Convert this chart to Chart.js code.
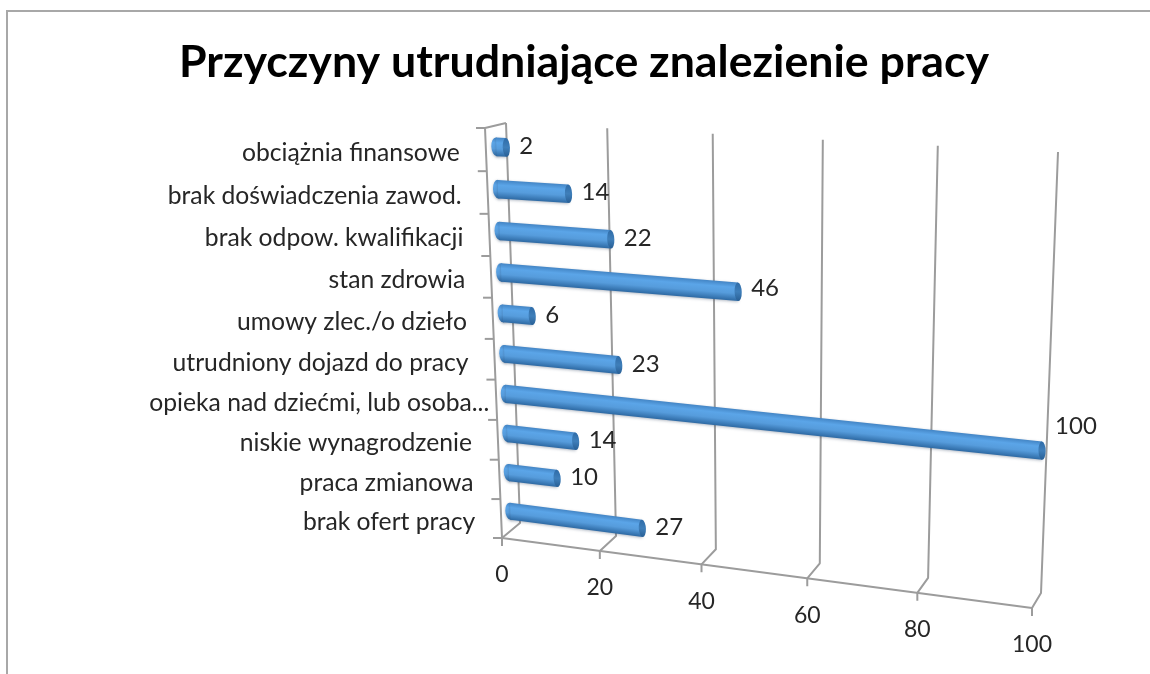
<!DOCTYPE html>
<html lang="pl">
<head>
<meta charset="utf-8">
<title>Przyczyny utrudniające znalezienie pracy</title>
<style>html,body{margin:0;padding:0;background:#fff}canvas{display:block}</style>
<script src="https://cdn.jsdelivr.net/npm/chart.js@4"></script>
</head>
<body>
<canvas id="c" width="1150" height="674"></canvas>
<script>
const titleText = 'Przyczyny utrudniające znalezienie pracy';
const categories = [
  'obciążnia finansowe',
  'brak doświadczenia zawod.',
  'brak odpow. kwalifikacji',
  'stan zdrowia',
  'umowy zlec./o dzieło',
  'utrudniony dojazd do pracy',
  'opieka nad dziećmi, lub osoba...',
  'niskie wynagrodzenie',
  'praca zmianowa',
  'brak ofert pracy'
];
const values = [2, 14, 22, 46, 6, 23, 100, 14, 10, 27];
const xTicks = [0, 20, 40, 60, 80, 100];

// Projection quads: top-left, top-right, bottom-right, bottom-left
const backQuad  = [[506,123],[1058,152],[1041,593],[520,523]];
const frontQuad = [[485,128],[1048,157],[1032,608],[502,538]];
const midQuad   = [[495.5,125.5],[1053,154.5],[1036.5,600.5],[511,530.5]];
const FONT = 'Lato';
const LINE = '#9c9c9c';

function makeH(q){
  const [[x0,y0],[x1,y1],[x2,y2],[x3,y3]] = q;
  const dx1=x1-x2,dx2=x3-x2,sx=x0-x1+x2-x3,dy1=y1-y2,dy2=y3-y2,sy=y0-y1+y2-y3;
  const den=dx1*dy2-dx2*dy1;
  const g=(sx*dy2-dx2*sy)/den,h=(dx1*sy-sx*dy1)/den;
  const a=x1-x0+g*x1,b=x3-x0+h*x3,c=x0,d=y1-y0+g*y1,e=y3-y0+h*y3,f=y0;
  return (u,v)=>{const w=g*u+h*v+1;return [(a*u+b*v+c)/w,(d*u+e*v+f)/w];};
}
const Hback=makeH(backQuad),Hfront=makeH(frontQuad),Hmid=makeH(midQuad);
let area=null;
const U=px=>(px-area.left)/(area.right-area.left);
const V=py=>(py-area.top)/(area.bottom-area.top);

// Bars are still drawn by Chart.js; the element is given a local perspective frame.
const baseDraw = Chart.BarElement.prototype.draw;
Chart.BarElement.prototype.draw = function(ctx){
  const {x,y,base,height}=this.getProps(['x','y','base','height'],true);
  const p0=Hmid(U(base),V(y)),p1=Hmid(U(x),V(y));
  const len=Math.max(x-base,1e-6);
  const q0=Hmid(U((base+x)/2),V(y-0.5)),q1=Hmid(U((base+x)/2),V(y+0.5));
  const ax=(p1[0]-p0[0])/len,ay=(p1[1]-p0[1])/len,bx=q1[0]-q0[0],by=q1[1]-q0[1];
  ctx.save();
  ctx.transform(ax,ay,bx,by,p0[0]-ax*base-bx*y,p0[1]-ay*base-by*y);
  const t=y-height/2;
  const grad=ctx.createLinearGradient(0,t,0,t+height);
  grad.addColorStop(0,'#4385c5');grad.addColorStop(0.28,'#5ba5e8');
  grad.addColorStop(0.6,'#569cdc');grad.addColorStop(1,'#2d69a3');
  ctx.shadowColor='rgba(40,60,90,0.35)';ctx.shadowBlur=3;ctx.shadowOffsetY=1;
  ctx.fillStyle=grad;
  ctx.beginPath();ctx.ellipse(base,y,5/ax,height/2,0,0,Math.PI*2);ctx.fill();
  const own=this.options;
  this.options=Object.assign({},own,{backgroundColor:grad});
  baseDraw.call(this,ctx);
  this.options=own;
  ctx.shadowColor='transparent';
  const cap=ctx.createLinearGradient(0,t,0,t+height);
  cap.addColorStop(0,'#2f6ca8');cap.addColorStop(0.5,'#3f7fba');cap.addColorStop(1,'#285f95');
  ctx.fillStyle=cap;
  ctx.beginPath();ctx.ellipse(x,y,3.6/ax,height/2,0,0,Math.PI*2);ctx.fill();
  ctx.restore();
};

const perspective = {
  id:'perspective',
  beforeDraw(chart){
    area=chart.chartArea;
    const c=chart.ctx;
    c.save();c.strokeStyle='#a8a8a8';c.lineWidth=2;
    c.beginPath();c.moveTo(7,674);c.lineTo(7,11);c.lineTo(1150,11);c.stroke();c.restore();
    const xs=chart.scales.x,ys=chart.scales.y;
    xs._labelItems=null;ys._labelItems=null;
    xs._computeLabelArea=()=>undefined;ys._computeLabelArea=()=>undefined;
    xs.getLabelItems().forEach((it,i)=>{
      const p=Hfront(U(xs.getPixelForTick(i)),1);
      it.options.translation=[p[0],p[1]+37];
      it.options.textBaseline='middle';it.options.textAlign='center';it.textOffset=0;
    });
    ys.getLabelItems().forEach((it,i)=>{
      const p=Hfront(0,V(ys.getPixelForTick(i)));
      const gap=it.label.endsWith('...')?7:26;
      it.options.translation=[p[0]-gap,p[1]+3.5];
      it.options.textBaseline='middle';it.options.textAlign='right';it.textOffset=0;
    });
  },
  beforeDatasetsDraw(chart){
    const c=chart.ctx,xs=chart.scales.x;
    c.save();c.strokeStyle=LINE;c.lineWidth=2;c.lineJoin='round';
    const poly=(pts)=>{c.beginPath();pts.forEach((p,i)=>i?c.lineTo(p[0],p[1]):c.moveTo(p[0],p[1]));c.stroke();};
    xs.ticks.forEach(t=>{
      const u=U(xs.getPixelForValue(t.value));
      const f=Hfront(u,1);
      poly([Hback(u,0),Hback(u,1),f,[f[0],f[1]+8]]);
    });
    poly([Hfront(0,1),Hfront(1,1)]);
    poly([Hback(0,0),Hfront(0,0),Hfront(0,1)]);
    for(let i=0;i<=categories.length;i++){
      const p=Hfront(0,i/categories.length);
      poly([[p[0]-9,p[1]],p]);
    }
    c.restore();
  },
  afterDatasetsDraw(chart){
    const c=chart.ctx,meta=chart.getDatasetMeta(0);
    c.save();c.font='24px '+FONT;c.fillStyle='#262626';c.textAlign='left';c.textBaseline='middle';
    meta.data.forEach((el,i)=>{
      const v=values[i],p=Hmid(U(el.x),V(el.y));
      c.fillText(String(v),p[0]+13,p[1]-1-23*Math.pow(v/100,3));
    });
    c.restore();
  }
};

new Chart(document.getElementById('c'),{
  type:'bar',
  data:{labels:categories,datasets:[{data:values,backgroundColor:'#569cdc',borderWidth:0,
    barPercentage:0.44,categoryPercentage:1,borderSkipped:false}]},
  options:{
    indexAxis:'y',responsive:false,animation:false,
    layout:{padding:{left:18,right:0,top:36,bottom:20}},
    plugins:{
      legend:{display:false},tooltip:{enabled:false},
      title:{display:true,text:titleText,color:'#000',font:{family:FONT,size:44.7,weight:'bold'},padding:{top:0,bottom:20}}
    },
    scales:{
      x:{min:0,max:100,afterBuildTicks(s){s.ticks=xTicks.map(v=>({value:v}));},
        grid:{display:false},border:{display:false},
        ticks:{color:'#262626',maxRotation:0,font:{family:FONT,size:23}}},
      y:{grid:{display:false},border:{display:false},
        ticks:{color:'#262626',autoSkip:false,font:{family:FONT,size:24.7}}}
    }
  },
  plugins:[perspective]
});
</script>
</body>
</html>
